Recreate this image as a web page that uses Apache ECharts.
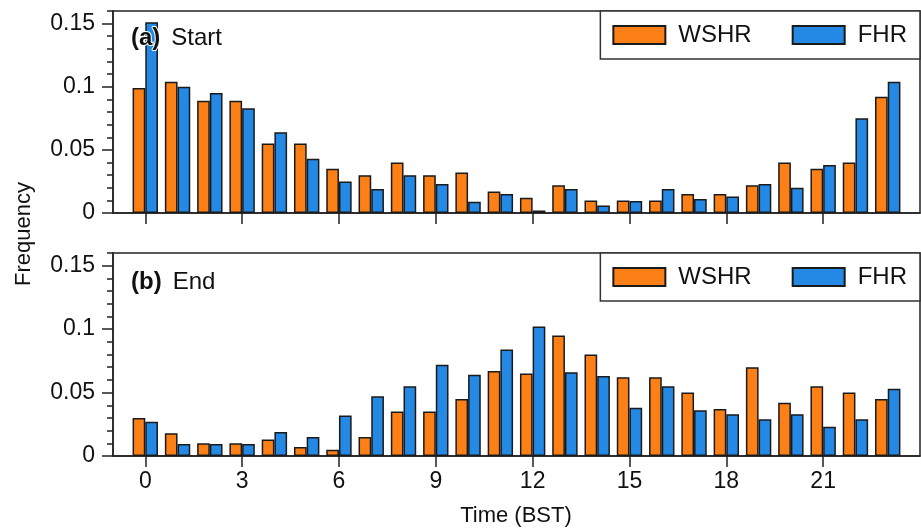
<!DOCTYPE html>
<html style="height: 100%">
<head>
    <meta charset="utf-8">
    <script src="https://cdn.jsdelivr.net/npm/echarts@6/dist/echarts.min.js"></script>
</head>
<body style="height: 100%; margin: 0; background: #fff">
    <div id="main" style="width: 921px; height: 529px;"></div>
    <script type="text/javascript">
    // hours 0..23 (BST)
    var hours = [0,1,2,3,4,5,6,7,8,9,10,11,12,13,14,15,16,17,18,19,20,21,22,23];
    var hourTicks = [0, 3, 6, 9, 12, 15, 18, 21];
    var freqTicks = [0, 0.05, 0.1, 0.15];

    // (a) Start
    var startWSHR = [0.099,0.104,0.089,0.089,0.055,0.055,0.035,0.030,0.040,0.030,0.032,0.017,
                     0.012,0.022,0.010,0.010,0.010,0.015,0.015,0.022,0.040,0.035,0.040,0.092];
    var startFHR  = [0.151,0.100,0.095,0.083,0.064,0.043,0.025,0.019,0.030,0.023,0.009,0.015,
                     0.002,0.019,0.006,0.0095,0.019,0.011,0.013,0.023,0.020,0.038,0.075,0.104];
    // (b) End
    var endWSHR = [0.030,0.018,0.010,0.010,0.013,0.007,0.005,0.015,0.035,0.035,0.045,0.067,
                   0.065,0.095,0.080,0.062,0.062,0.050,0.037,0.070,0.042,0.055,0.050,0.045];
    var endFHR  = [0.027,0.0095,0.0095,0.0095,0.019,0.015,0.032,0.047,0.055,0.072,0.064,0.084,
                   0.102,0.066,0.063,0.038,0.055,0.036,0.033,0.029,0.033,0.023,0.029,0.053];

    var ORANGE = '#fd8017';
    var BLUE = '#2389e5';
    var FONT = 'Liberation Sans, Arial, sans-serif';

    function pairs(vals) {
        return hours.map(function (h, i) { return [h, vals[i]]; });
    }

    var myChart = echarts.init(document.getElementById('main'));

    var grids = [
        { left: 113, right: 1, top: 11, height: 202 },
        { left: 113, right: 1, top: 253, height: 203 }
    ];

    var xAxes = [0, 1].map(function (i) {
        return {
            type: 'value', gridIndex: i, min: -1, max: 24,
            splitLine: { show: false },
            axisLine: { show: true, onZero: false, lineStyle: { color: '#222', width: 1.5 } },
            axisTick: { show: true, length: 11, customValues: hourTicks, lineStyle: { color: '#222', width: 1.5 } },
            axisLabel: {
                show: i === 1, customValues: hourTicks, margin: 14,
                fontSize: 23, color: '#111', fontFamily: FONT
            }
        };
    });

    var yAxes = [];
    [0, 1].forEach(function (i) {
        // minor ticks every 0.01
        yAxes.push({
            type: 'value', gridIndex: i, min: 0, max: 0.16, interval: 0.01,
            splitLine: { show: false },
            axisLine: { show: true, onZero: false, lineStyle: { color: '#222', width: 1.5 } },
            axisTick: { show: true, length: 6, lineStyle: { color: '#222', width: 1.5 } },
            axisLabel: { show: false }
        });
        // major ticks + labels
        yAxes.push({
            type: 'value', gridIndex: i, min: 0, max: 0.16, position: 'left',
            splitLine: { show: false },
            axisLine: { show: false, onZero: false },
            axisTick: { show: true, length: 11, customValues: freqTicks, lineStyle: { color: '#222', width: 1.5 } },
            axisLabel: {
                customValues: freqTicks, margin: 18, fontSize: 23, color: '#111', fontFamily: FONT,
                formatter: function (v) { return v === 0 ? '0' : String(+v.toFixed(2)); }
            }
        });
    });

    function barSeries(name, vals, gi, color) {
        return {
            name: name, type: 'bar',
            xAxisIndex: gi, yAxisIndex: gi * 2,
            barWidth: 12.7, barGap: '0%',
            itemStyle: { color: color, borderColor: '#1a1a1a', borderWidth: 1.5 },
            data: pairs(vals)
        };
    }

    function legendFor(gi, top) {
        return {
            data: ['WSHR', 'FHR'],
            right: 1, top: top,
            orient: 'horizontal',
            icon: 'rect',
            itemWidth: 52, itemHeight: 18, itemGap: 40,
            padding: [12, 13, 12, 12],
            backgroundColor: '#fff',
            borderColor: '#333', borderWidth: 1.5,
            selectedMode: false,
            textStyle: { fontSize: 24, color: '#111', fontFamily: FONT, padding: [0, 0, 0, 8] }
        };
    }

    var option = {
        animation: false,
        backgroundColor: '#fff',
        grid: grids.map(function (g) {
            return Object.assign({ show: true, borderColor: '#222', borderWidth: 1.5, backgroundColor: 'transparent' }, g);
        }),
        xAxis: xAxes,
        yAxis: yAxes,
        legend: [legendFor(0, 11), legendFor(1, 253)],
        title: [
            {
                text: '{b|(a)} {n|Start}', left: 126, top: 21,
                textStyle: { rich: {
                    b: { fontSize: 24, fontWeight: 'bold', color: '#111', fontFamily: FONT, textBorderColor: '#fff', textBorderWidth: 2 },
                    n: { fontSize: 24, fontWeight: 'normal', color: '#111', fontFamily: FONT, padding: [0, 0, 0, 6] }
                } }
            },
            {
                text: '{b|(b)} {n|End}', left: 126, top: 265,
                textStyle: { rich: {
                    b: { fontSize: 24, fontWeight: 'bold', color: '#111', fontFamily: FONT },
                    n: { fontSize: 24, fontWeight: 'normal', color: '#111', fontFamily: FONT, padding: [0, 0, 0, 6] }
                } }
            }
        ],
        graphic: [
            {
                type: 'text', x: 24, y: 234, rotation: Math.PI / 2,
                style: { text: 'Frequency', fontSize: 22, fill: '#111', fontFamily: FONT, align: 'center', verticalAlign: 'middle' }
            },
            {
                type: 'text', x: 516, y: 516,
                style: { text: 'Time (BST)', fontSize: 22, fill: '#111', fontFamily: FONT, align: 'center', verticalAlign: 'middle' }
            }
        ],
        series: [
            barSeries('WSHR', startWSHR, 0, ORANGE),
            barSeries('FHR', startFHR, 0, BLUE),
            barSeries('WSHR', endWSHR, 1, ORANGE),
            barSeries('FHR', endFHR, 1, BLUE)
        ]
    };

    myChart.setOption(option);
    </script>
</body>
</html>
